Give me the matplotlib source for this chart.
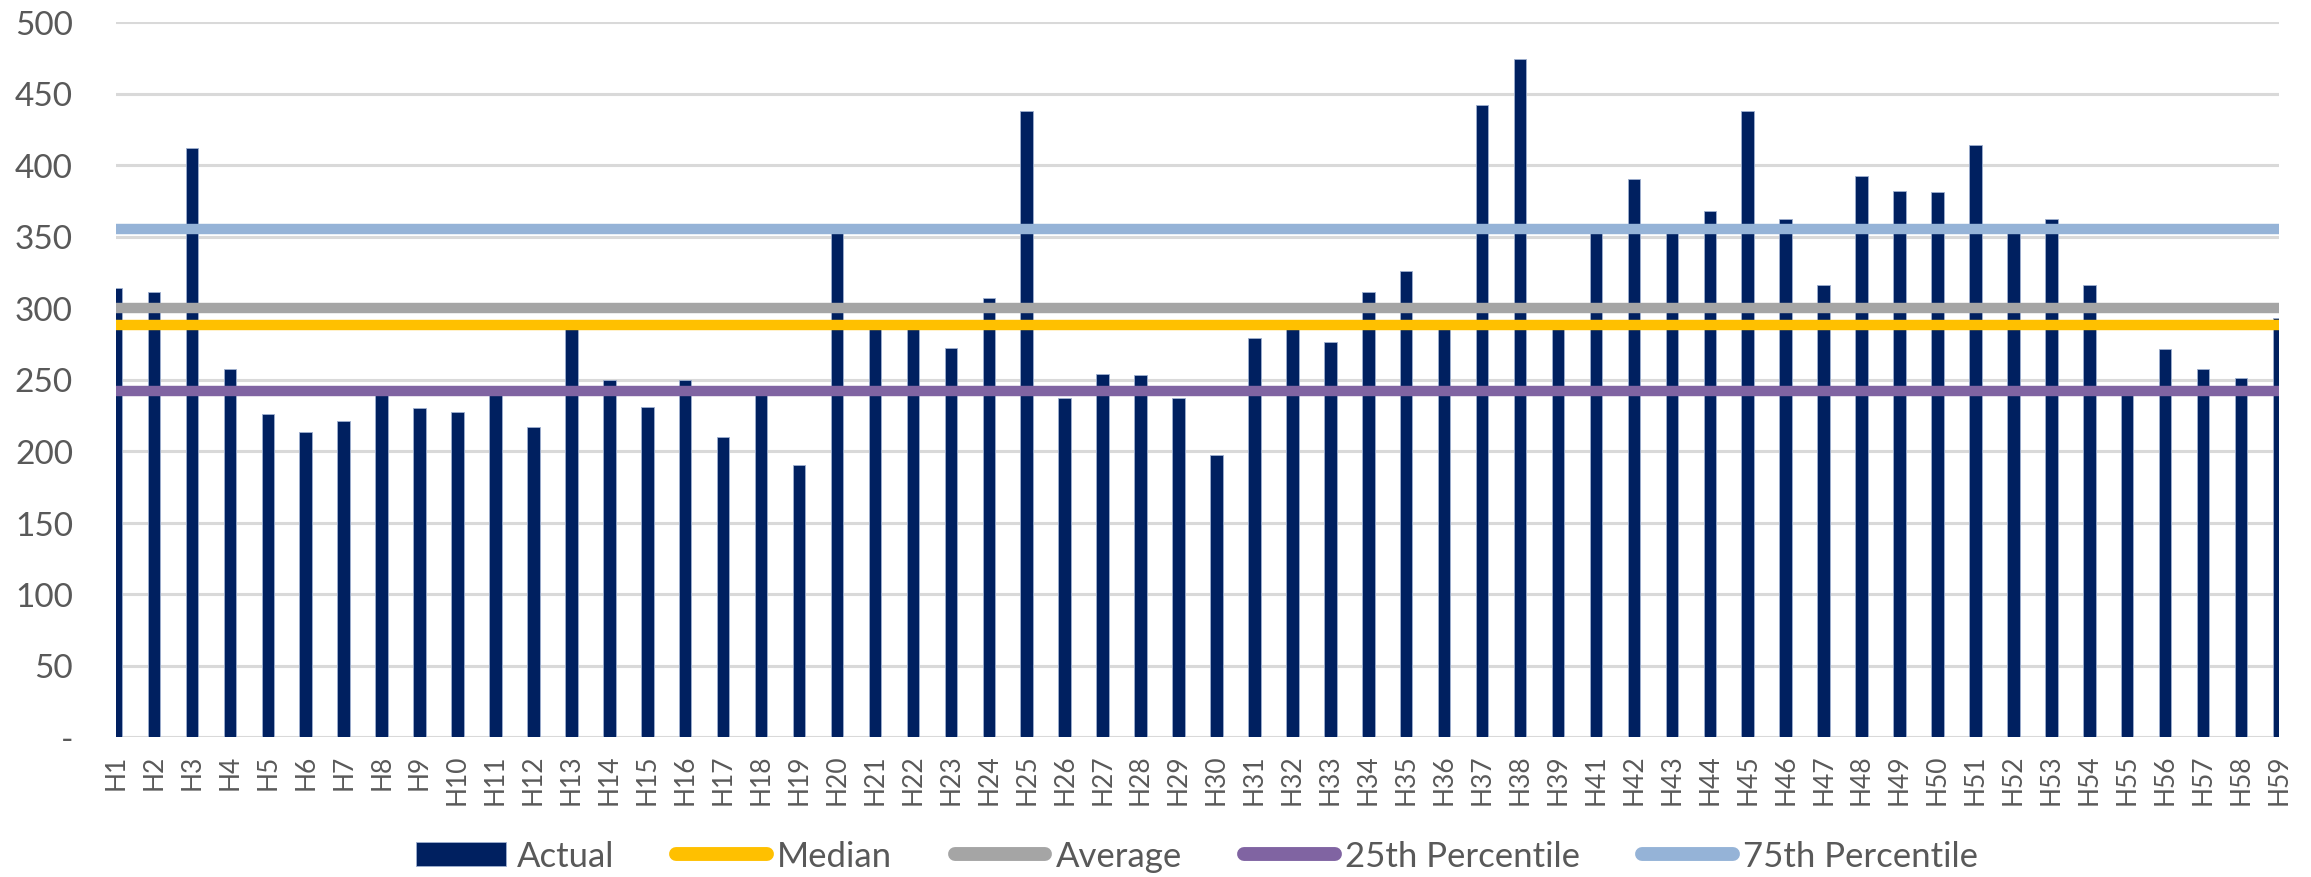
import matplotlib
matplotlib.use("Agg")
import matplotlib.pyplot as plt
from matplotlib import font_manager
from matplotlib.patches import Patch
from matplotlib.lines import Line2D

names = {f.name for f in font_manager.fontManager.ttflist}
FONT = "Liberation Sans Narrow" if "Liberation Sans Narrow" in names else "Lato"
plt.rcParams["font.family"] = [FONT, "DejaVu Sans"]

categories = [f"H{i}" for i in range(1, 40)] + [f"H{i}" for i in range(41, 60)]
actual = [314, 311, 412, 257, 226, 213, 221, 243, 230, 227,
          244, 217, 288, 250, 231, 250, 210, 243, 190, 353,
          288, 288, 272, 307, 438, 237, 254, 253, 237, 197,
          279, 288, 276, 311, 326, 289, 442, 474, 288, 353,
          390, 353, 368, 438, 362, 316, 392, 382, 381, 414,
          353, 362, 316, 244, 271, 257, 251, 293]
stat_names = ["Median", "Average", "25th Percentile", "75th Percentile"]
stat_values = [288, 300, 242, 355]
yticks = [0, 50, 100, 150, 200, 250, 300, 350, 400, 450, 500]
ytick_labels = ["-", "50", "100", "150", "200", "250", "300", "350", "400", "450", "500"]

NAVY = "#002060"
stat_colors = {"Median": "#FFC000", "Average": "#A5A5A5",
               "25th Percentile": "#8064A2", "75th Percentile": "#95B3D7"}
TXT = "#595959"

fig = plt.figure(figsize=(23.11, 8.78), dpi=100)
ax = fig.add_axes([116 / 2311, 1 - 738 / 878, (2279 - 116) / 2311, (738 - 23) / 878])

x = list(range(len(categories)))
ax.bar(x, actual, width=0.33, color=NAVY, edgecolor="#9FB0D0", linewidth=0.6, zorder=2)

draw_order = ["75th Percentile", "Average", "Median", "25th Percentile"]
for nm in draw_order:
    v = stat_values[stat_names.index(nm)]
    ax.axhline(v, color=stat_colors[nm], linewidth=7.5, solid_capstyle="butt", zorder=3)

ax.set_xlim(0, len(categories) - 1)
ax.set_ylim(0, 500)
ax.set_yticks(yticks)
ax.set_yticklabels(ytick_labels, fontsize=24, color=TXT)
ax.set_xticks(x)
ax.set_xticklabels(categories, rotation=90, fontsize=19, color=TXT)
ax.tick_params(axis="both", length=0)
ax.tick_params(axis="y", pad=31)
ax.tick_params(axis="x", pad=12)
ax.grid(axis="y", color="#D9D9D9", linewidth=2.2, zorder=0)
ax.set_axisbelow(True)
for s in ax.spines.values():
    s.set_visible(False)

handles = [Patch(facecolor=NAVY, edgecolor="#9FB0D0", linewidth=0.6, label="Actual")]
for nm in stat_names:
    handles.append(Line2D([0], [0], color=stat_colors[nm], linewidth=10,
                          solid_capstyle="round", label=nm))
leg = fig.legend(handles=handles, loc="center", bbox_to_anchor=(1197 / 2311, 1 - 857 / 878),
                 ncol=5, frameon=False, fontsize=25, handlelength=2.6, handleheight=0.7,
                 handletextpad=0.3, columnspacing=1.8)
for t in leg.get_texts():
    t.set_color(TXT)

fig.savefig("out.png", dpi=100, facecolor="white")
